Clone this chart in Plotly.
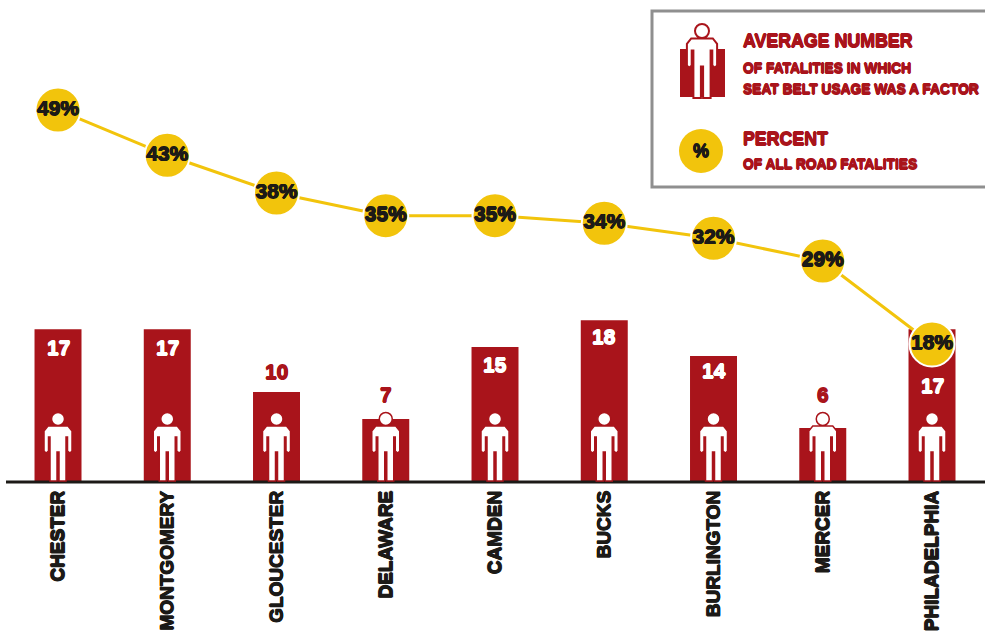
import plotly.graph_objects as go

# Road fatalities by county
counties = ["CHESTER", "MONTGOMERY", "GLOUCESTER", "DELAWARE", "CAMDEN",
            "BUCKS", "BURLINGTON", "MERCER", "PHILADELPHIA"]
avg_fatalities = [17, 17, 10, 7, 15, 18, 14, 6, 17]
pct_of_fatalities = [49, 43, 38, 35, 35, 34, 32, 29, 18]

# Vertical offset (px) of each count label from the top of its bar
count_label_shift = [-18, -18, 21, 25, -17, -16, -14, 34, -56]

RED = "#A9141B"
YELLOW = "#F2C40C"
INK = "#1c1a17"
GRAY = "#8f8f8f"
W, H = 985, 634
BASE_PX = 482
FONT = "Liberation Sans, sans-serif"


def thick(color):
    """Text shadow that fattens the letters in their own colour."""
    return (f"0.6px 0 0 {color}, -0.6px 0 0 {color}, "
            f"0 0.7px 0 {color}, 0 -0.7px 0 {color}")


def px(x):
    return x / W


def py(y):
    return (BASE_PX - y) / BASE_PX


def person_path(s=1.0):
    """Standing figure, feet at the origin, y pointing up, in pixels."""
    pts = [(-8, 1), (-8, 45), (-9.5, 45), (-9.5, 31), (-12, 29), (-14, 31), (-14, 51),
           (-10, 56), (10, 56), (14, 51), (14, 31), (12, 29), (9.5, 31), (9.5, 45), (8, 45),
           (8, 1), (1, 1), (1, 30), (-1, 30), (-1, 1)]
    body = "M" + " L".join(f"{a*s:.1f},{b*s:.1f}" for a, b in pts) + " Z"
    r, c, k = 6.5 * s, 63 * s, 3.6 * s
    head = (f" M{-r:.1f},{c:.1f} C{-r:.1f},{c+k:.1f} {-k:.1f},{c+r:.1f} 0,{c+r:.1f}"
            f" C{k:.1f},{c+r:.1f} {r:.1f},{c+k:.1f} {r:.1f},{c:.1f}"
            f" C{r:.1f},{c-k:.1f} {k:.1f},{c-r:.1f} 0,{c-r:.1f}"
            f" C{-k:.1f},{c-r:.1f} {-r:.1f},{c-k:.1f} {-r:.1f},{c:.1f} Z")
    return body + head


fig = go.Figure()
fig.add_bar(x=counties, y=avg_fatalities, width=0.43, marker_color=RED,
            marker_line_width=0, yaxis="y")
fig.add_scatter(x=counties, y=pct_of_fatalities, yaxis="y2", mode="lines+markers+text",
                line=dict(color=YELLOW, width=3),
                marker=dict(size=45, color=YELLOW, line=dict(color="white", width=2)),
                text=[f"{v}%" for v in pct_of_fatalities], textposition="middle center",
                textfont=dict(family=FONT, size=21, color=INK, weight="bold", shadow=thick(INK)),
                cliponaxis=False)

shapes = [dict(type="line", xref="paper", yref="paper", x0=px(6), x1=1, y0=0, y1=0,
               line=dict(color=INK, width=3))]
for name in counties:
    shapes.append(dict(type="path", xref="x", yref="y", xsizemode="pixel", ysizemode="pixel",
                       xanchor=name, yanchor=0, path=person_path(),
                       fillcolor="white", line=dict(color=RED, width=1.5)))

# Key box
shapes += [
    dict(type="rect", xref="paper", yref="paper", x0=px(652), x1=px(990), y0=py(187), y1=py(11),
         fillcolor="white", line=dict(color=GRAY, width=3)),
    dict(type="rect", xref="paper", yref="paper", x0=px(680), x1=px(725), y0=py(97), y1=py(49),
         fillcolor=RED, line_width=0),
    dict(type="path", xref="paper", yref="paper", xsizemode="pixel", ysizemode="pixel",
         xanchor=px(702), yanchor=py(99), path=person_path(1.08),
         fillcolor="white", line=dict(color=RED, width=2)),
    dict(type="circle", xref="paper", yref="paper", x0=px(679), x1=px(723), y0=py(173), y1=py(129),
         fillcolor=YELLOW, line_width=0),
]


def key_text(x, y, text, size):
    return dict(xref="paper", yref="paper", x=px(x), y=py(y), text=text, showarrow=False,
                xanchor="left", yanchor="middle",
                font=dict(family=FONT, size=size, color=RED, weight="bold", shadow=thick(RED)))


annotations = [
    key_text(741, 41, "AVERAGE NUMBER", 17.8),
    key_text(741, 68, "OF FATALITIES IN WHICH", 13.8),
    key_text(741, 89, "SEAT BELT USAGE WAS A FACTOR", 13.8),
    key_text(741, 139, "PERCENT", 17.8),
    key_text(741, 164, "OF ALL ROAD FATALITIES", 13.8),
    dict(xref="paper", yref="paper", x=px(701), y=py(151), text="%", showarrow=False,
         xanchor="center", yanchor="middle",
         font=dict(family=FONT, size=18, color=INK, weight="bold", shadow=thick(INK))),
]
for name, value, shift in zip(counties, avg_fatalities, count_label_shift):
    color = RED if shift > 0 else "white"
    annotations.append(dict(x=name, y=value, yref="y", text=str(value), showarrow=False,
                            yanchor="middle", yshift=shift,
                            font=dict(family=FONT, size=21, color=color,
                                      weight="bold", shadow=thick(color))))

fig.update_layout(
    width=W, height=H, autosize=False, showlegend=False,
    margin=dict(l=0, r=0, t=0, b=H - BASE_PX, pad=0),
    paper_bgcolor="white", plot_bgcolor="white",
    shapes=shapes, annotations=annotations,
    xaxis=dict(type="category", categoryorder="array", categoryarray=counties,
               range=[-0.531, 8.485], tickangle=-90, ticks="", showline=False, showgrid=False,
               zeroline=False, automargin=False, ticklabelstandoff=4,
               tickfont=dict(family=FONT, size=19, color=INK, weight="bold", shadow=thick(INK))),
    yaxis=dict(range=[0, 53.6], visible=False, fixedrange=True),
    yaxis2=dict(range=[-0.283, 63.57], overlaying="y", visible=False),
)
fig.write_html("out.html", config=dict(displayModeBar=False))
